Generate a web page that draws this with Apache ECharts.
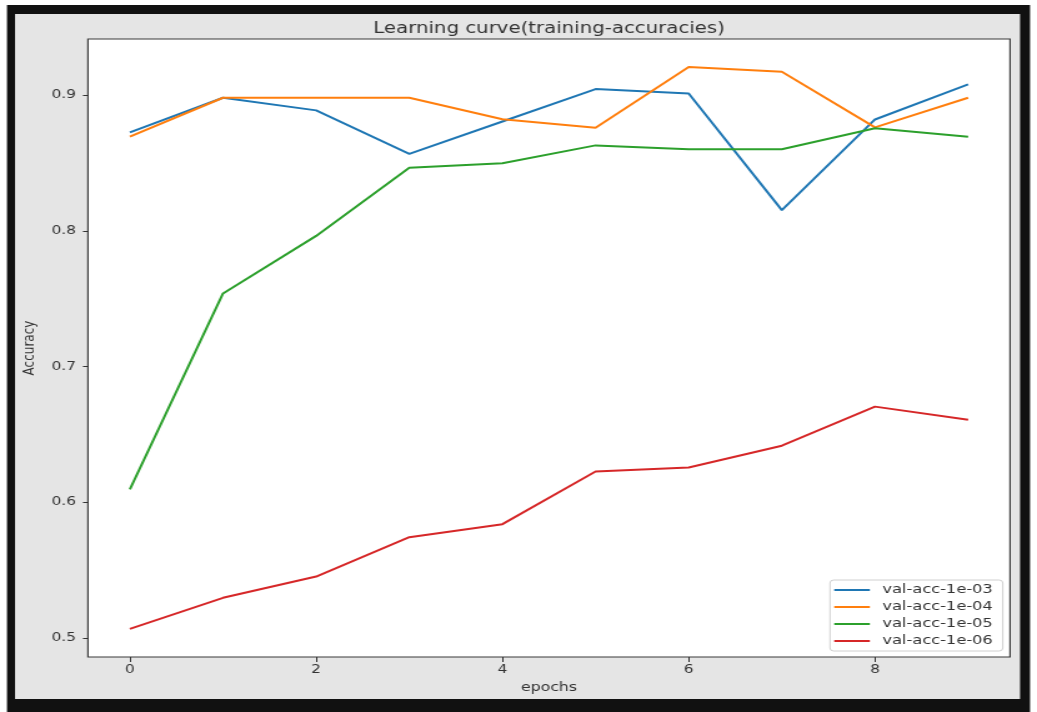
<!DOCTYPE html>
<html>
<head>
<meta charset="utf-8">
<script src="https://cdn.jsdelivr.net/npm/echarts@6/dist/echarts.min.js"></script>
<style>
  html, body { margin: 0; padding: 0; background: #fff; overflow: hidden; }
  #chart { width: 830px; height: 712px; transform: scaleX(1.2494); transform-origin: 0 0; }
</style>
</head>
<body>
<div id="chart"></div>
<script>
// Validation accuracy per epoch for four learning rates
const epochs = [0, 1, 2, 3, 4, 5, 6, 7, 8, 9];
const acc_1e03 = [0.8725, 0.898, 0.8887, 0.8567, 0.8805, 0.9044, 0.9012, 0.8152, 0.882, 0.9079];
const acc_1e04 = [0.8693, 0.898, 0.898, 0.898, 0.8822, 0.8759, 0.9206, 0.9172, 0.8762, 0.898];
const acc_1e05 = [0.6094, 0.7538, 0.7962, 0.8464, 0.8498, 0.8629, 0.860, 0.860, 0.8755, 0.8693];
const acc_1e06 = [0.5066, 0.5295, 0.5452, 0.5742, 0.5838, 0.6226, 0.6256, 0.6416, 0.6704, 0.6608];
const seriesNames = ['val-acc-1e-03', 'val-acc-1e-04', 'val-acc-1e-05', 'val-acc-1e-06'];
const xTicks = [0, 2, 4, 6, 8];
const yTicks = [0.5, 0.6, 0.7, 0.8, 0.9];

const colors = ['#1f77b4', '#ff7f0e', '#2ca02c', '#d62728'];
const FONT = 'DejaVu Sans';
const allSeries = [acc_1e03, acc_1e04, acc_1e05, acc_1e06];

// 5% padding around the data range on both axes
const xMin = -0.45, xMax = 9.45;
const allVals = allSeries.flat();
const lo = Math.min(...allVals), hi = Math.max(...allVals);
const pad = (hi - lo) * 0.05;

const chart = echarts.init(document.getElementById('chart'), null, { renderer: 'canvas' });

chart.setOption({
  animation: false,
  backgroundColor: '#ffffff',
  color: colors,
  graphic: [
    { type: 'rect', z: -100, shape: { x: 5.6, y: 5, width: 818.8, height: 707 }, style: { fill: '#111111' } },
    { type: 'rect', z: -99, shape: { x: 12, y: 14, width: 804.4, height: 685 }, style: { fill: '#e5e5e5' } }
  ],
  title: {
    text: 'Learning curve(training-accuracies)',
    left: 439.5,
    top: 20.4,
    textAlign: 'center',
    padding: 0,
    textStyle: { fontFamily: FONT, fontSize: 15.8, fontWeight: 'normal', color: '#333' }
  },
  grid: {
    left: 70.4, right: 21.6, top: 39, bottom: 55,
    show: true, backgroundColor: '#ffffff', borderColor: '#3a3a3a', borderWidth: 1.2
  },
  legend: {
    orient: 'vertical',
    left: 664.3,
    top: 580,
    data: seriesNames,
    icon: 'rect',
    itemWidth: 28.5,
    itemHeight: 2,
    itemGap: 3,
    padding: [3, 8, 3, 3.4],
    backgroundColor: '#ffffff',
    borderColor: '#d0d0d0',
    borderWidth: 1,
    borderRadius: 3,
    textStyle: { fontFamily: FONT, fontSize: 13, color: '#333', lineHeight: 14, padding: [0, 0, 0, 5] }
  },
  xAxis: {
    type: 'value',
    min: xMin,
    max: xMax,
    name: 'epochs',
    nameLocation: 'middle',
    nameGap: 23,
    nameTextStyle: { fontFamily: FONT, fontSize: 12.6, color: '#333' },
    splitLine: { show: false },
    axisLine: { show: false, onZero: false },
    axisTick: { show: true, length: 5, customValues: xTicks, lineStyle: { color: '#333', width: 1 } },
    axisLabel: { customValues: xTicks, margin: 7, fontFamily: FONT, fontSize: 12.3, color: '#333' }
  },
  yAxis: {
    type: 'value',
    min: lo - pad,
    max: hi + pad,
    name: 'Accuracy',
    nameLocation: 'middle',
    nameRotate: 90,
    nameGap: 39,
    nameTextStyle: { fontFamily: FONT, fontSize: 12, color: '#333' },
    splitLine: { show: false },
    axisLine: { show: false, onZero: false },
    axisTick: { show: true, length: 4, customValues: yTicks, lineStyle: { color: '#333', width: 1 } },
    axisLabel: { customValues: yTicks, margin: 9.6, fontFamily: FONT, fontSize: 12.3, color: '#333',
      formatter: v => v.toFixed(1) }
  },
  series: allSeries.map((vals, i) => ({
    name: seriesNames[i],
    type: 'line',
    data: epochs.map((e, j) => [e, vals[j]]),
    showSymbol: false,
    symbol: 'none',
    lineStyle: { width: 2, color: colors[i] },
    itemStyle: { color: colors[i] },
    emphasis: { disabled: true }
  }))
});
</script>
</body>
</html>
